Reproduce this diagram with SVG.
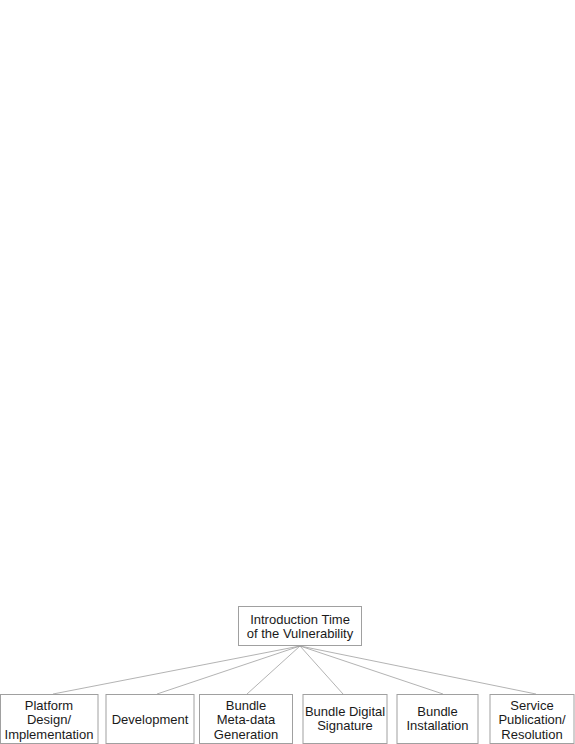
<svg xmlns="http://www.w3.org/2000/svg" width="575" height="744" viewBox="0 0 575 744">
<style>
.box{fill:#fff;stroke:#a0a0a0;stroke-width:1}
.lbl{font-family:"Liberation Sans",Arial,sans-serif;font-size:13px;fill:#1a1a1a;text-anchor:middle}
.edge{stroke:#a0a0a0;stroke-width:0.8;fill:none}
</style>
<rect width="575" height="744" fill="#fff"/>
<g id="connectors">
<line class="edge" x1="300" y1="646" x2="53" y2="694"/>
<line class="edge" x1="300" y1="646" x2="157" y2="694"/>
<line class="edge" x1="300" y1="646" x2="247" y2="694"/>
<line class="edge" x1="300" y1="646" x2="343" y2="694"/>
<line class="edge" x1="300" y1="646" x2="443" y2="694"/>
<line class="edge" x1="300" y1="646" x2="536" y2="694"/>
</g>
<g id="root">
<rect class="box" x="238.5" y="606.5" width="123" height="39"/>
<text class="lbl" x="300" y="623.5">Introduction Time</text>
<text class="lbl" x="300" y="638">of the Vulnerability</text>
</g>
<g id="n1">
<rect class="box" x="0.5" y="694.5" width="97.5" height="49"/>
<text class="lbl" x="49" y="709.5">Platform</text>
<text class="lbl" x="49" y="724">Design/</text>
<text class="lbl" x="49" y="738.5">Implementation</text>
</g>
<g id="n2">
<rect class="box" x="106" y="694.5" width="88" height="49"/>
<text class="lbl" x="150" y="724">Development</text>
</g>
<g id="n3">
<rect class="box" x="199.5" y="694.5" width="93" height="49"/>
<text class="lbl" x="246" y="709.5">Bundle</text>
<text class="lbl" x="246" y="724">Meta-data</text>
<text class="lbl" x="246" y="738.5">Generation</text>
</g>
<g id="n4">
<rect class="box" x="303" y="694.5" width="84" height="49"/>
<text class="lbl" x="345" y="716">Bundle Digital</text>
<text class="lbl" x="345" y="730">Signature</text>
</g>
<g id="n5">
<rect class="box" x="397" y="694.5" width="81" height="49"/>
<text class="lbl" x="437.5" y="716">Bundle</text>
<text class="lbl" x="437.5" y="730">Installation</text>
</g>
<g id="n6">
<rect class="box" x="490" y="694.5" width="84" height="49"/>
<text class="lbl" x="532" y="709.5">Service</text>
<text class="lbl" x="532" y="724">Publication/</text>
<text class="lbl" x="532" y="738.5">Resolution</text>
</g>
</svg>
